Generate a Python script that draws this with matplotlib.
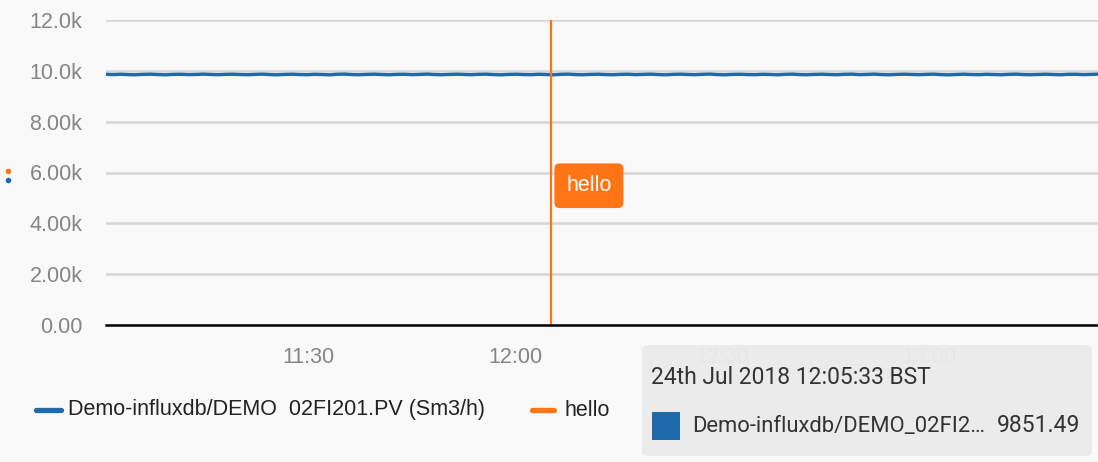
import matplotlib
matplotlib.use("Agg")
import matplotlib.pyplot as plt
import matplotlib.dates as mdates
from matplotlib.patches import FancyBboxPatch, Rectangle
from matplotlib.lines import Line2D
import pandas as pd

plt.rcParams["font.family"] = ["Liberation Sans", "DejaVu Sans"]

# flow series, roughly every minute
start_time = "2018-07-24 11:00:40"
end_time = "2018-07-24 13:24:30"
flow_values = [9862, 9851, 9866, 9849, 9845, 9861, 9868, 9852, 9843, 9859,
               9865, 9850, 9856, 9869, 9857, 9846, 9860, 9867, 9853, 9848,
               9861, 9870, 9850, 9844, 9858, 9866, 9852, 9847, 9863, 9855,
               9843, 9864, 9871, 9851, 9846, 9860, 9868, 9853, 9845, 9859,
               9865, 9849, 9857, 9872, 9854, 9846, 9858, 9867, 9856, 9847,
               9862, 9869, 9851, 9843, 9857, 9866, 9853, 9848, 9864, 9855,
               9844, 9861, 9870, 9850, 9846, 9859, 9867, 9852, 9845, 9860,
               9866, 9849, 9858, 9869, 9853, 9843, 9860, 9868, 9855, 9847,
               9863, 9871, 9850, 9844, 9858, 9865, 9852, 9848, 9862, 9856,
               9843, 9860, 9870, 9851, 9845, 9859, 9867, 9854, 9846, 9863,
               9868, 9849, 9857, 9871, 9852, 9844, 9858, 9866, 9856, 9848,
               9861, 9869, 9850, 9843, 9857, 9867, 9853, 9847, 9862, 9855,
               9845, 9860, 9870, 9852, 9846, 9858, 9866, 9853, 9845, 9861,
               9865, 9850, 9857, 9868]
series_name = "Demo-influxdb/DEMO  02FI201.PV (Sm3/h)"
tooltip_name = "Demo-influxdb/DEMO_02FI2…"
tooltip_value = "9851.49"
tooltip_time = "24th Jul 2018 12:05:33 BST"

annot_time = pd.Timestamp("2018-07-24 12:05:15")
annot_text = "hello"

y_ticks = [0, 2000, 4000, 6000, 8000, 10000, 12000]
y_labels = ["0.00", "2.00k", "4.00k", "6.00k", "8.00k", "10.0k", "12.0k"]
x_ticks = ["2018-07-24 11:30", "2018-07-24 12:00", "2018-07-24 12:30", "2018-07-24 13:00"]

BLUE = "#1f6aa8"
ORANGE = "#ff7415"
BG = "#f9f9f9"
GRID = "#d6d6d6"
TICK = "#858585"
TIPFONT = ["Roboto", "DejaVu Sans"]

times = pd.date_range(start_time, end_time, periods=len(flow_values))

fig = plt.figure(figsize=(10.98, 4.62), dpi=100, facecolor=BG)
ax = fig.add_axes([106/1098, 1 - 325/462, (1098-106)/1098, 305/462])
ax.set_facecolor(BG)

ax.plot(times, flow_values, color=BLUE, lw=2.4, zorder=3)
ax.set_xlim(pd.Timestamp(start_time), pd.Timestamp(end_time))
ax.set_ylim(0, 12000)

ax.set_yticks(y_ticks)
ax.set_yticklabels(y_labels)
ax.set_xticks(pd.to_datetime(x_ticks))
ax.xaxis.set_major_formatter(mdates.DateFormatter("%H:%M"))
ax.grid(axis="y", color=GRID, lw=1.8, zorder=0)
ax.tick_params(axis="both", length=0, labelsize=15.5, colors=TICK)
ax.tick_params(axis="y", pad=17)
ax.tick_params(axis="x", pad=16)
for s in ["top", "right", "left"]:
    ax.spines[s].set_visible(False)
ax.spines["bottom"].set_color("black")
ax.spines["bottom"].set_linewidth(1.8)
ax.spines["bottom"].set_zorder(4)

# annotation marker
ax.axvline(annot_time, color=ORANGE, lw=1.6, zorder=4)
ax.annotate(annot_text, xy=(annot_time, 5480), xytext=(27, 0), textcoords="offset points",
            ha="center", va="center", color="white", fontsize=15.5, zorder=5,
            bbox=dict(boxstyle="round,pad=0.55,rounding_size=0.25", fc=ORANGE, ec="none"))

# small series dots on the far left
fig.add_artist(Line2D([8/1098], [1 - 171/462], marker="o", ms=4, color=ORANGE, mec="none"))
fig.add_artist(Line2D([8/1098], [1 - 180/462], marker="o", ms=4, color=BLUE, mec="none"))

# legend below
fig.add_artist(Line2D([36/1098, 61/1098], [1 - 410/462]*2, color=BLUE, lw=3.8, solid_capstyle="round"))
fig.text(68/1098, 1 - 410/462, series_name, color="#222222", fontsize=15.5, va="center")
fig.add_artist(Line2D([532/1098, 554/1098], [1 - 410/462]*2, color=ORANGE, lw=3.8, solid_capstyle="round"))
fig.text(565/1098, 1 - 410/462, annot_text, color="#222222", fontsize=15.5, va="center")

# hover tooltip
tip = FancyBboxPatch((642/1098, 1 - 456/462), 450/1098, 111/462,
                     boxstyle="round,pad=0,rounding_size=0.008", transform=fig.transFigure,
                     fc="#ebebeb", ec="none", alpha=0.96, zorder=10)
fig.add_artist(tip)
fig.text(651/1098, 1 - 378/462, tooltip_time, color="#333333", fontsize=16.5,
         family=TIPFONT, va="center", zorder=11)
fig.add_artist(Rectangle((652/1098, 1 - 440/462), 28/1098, 28/462, transform=fig.transFigure,
                         fc=BLUE, ec="none", zorder=11))
fig.text(692/1098, 1 - 426/462, tooltip_name, color="#333333", fontsize=15.8,
         family=TIPFONT, va="center", zorder=11)
fig.text(1080/1098, 1 - 426/462, tooltip_value, color="#333333", fontsize=16.5,
         family=TIPFONT, va="center", ha="right", zorder=11)

fig.savefig("out.png", dpi=100, facecolor=BG)
